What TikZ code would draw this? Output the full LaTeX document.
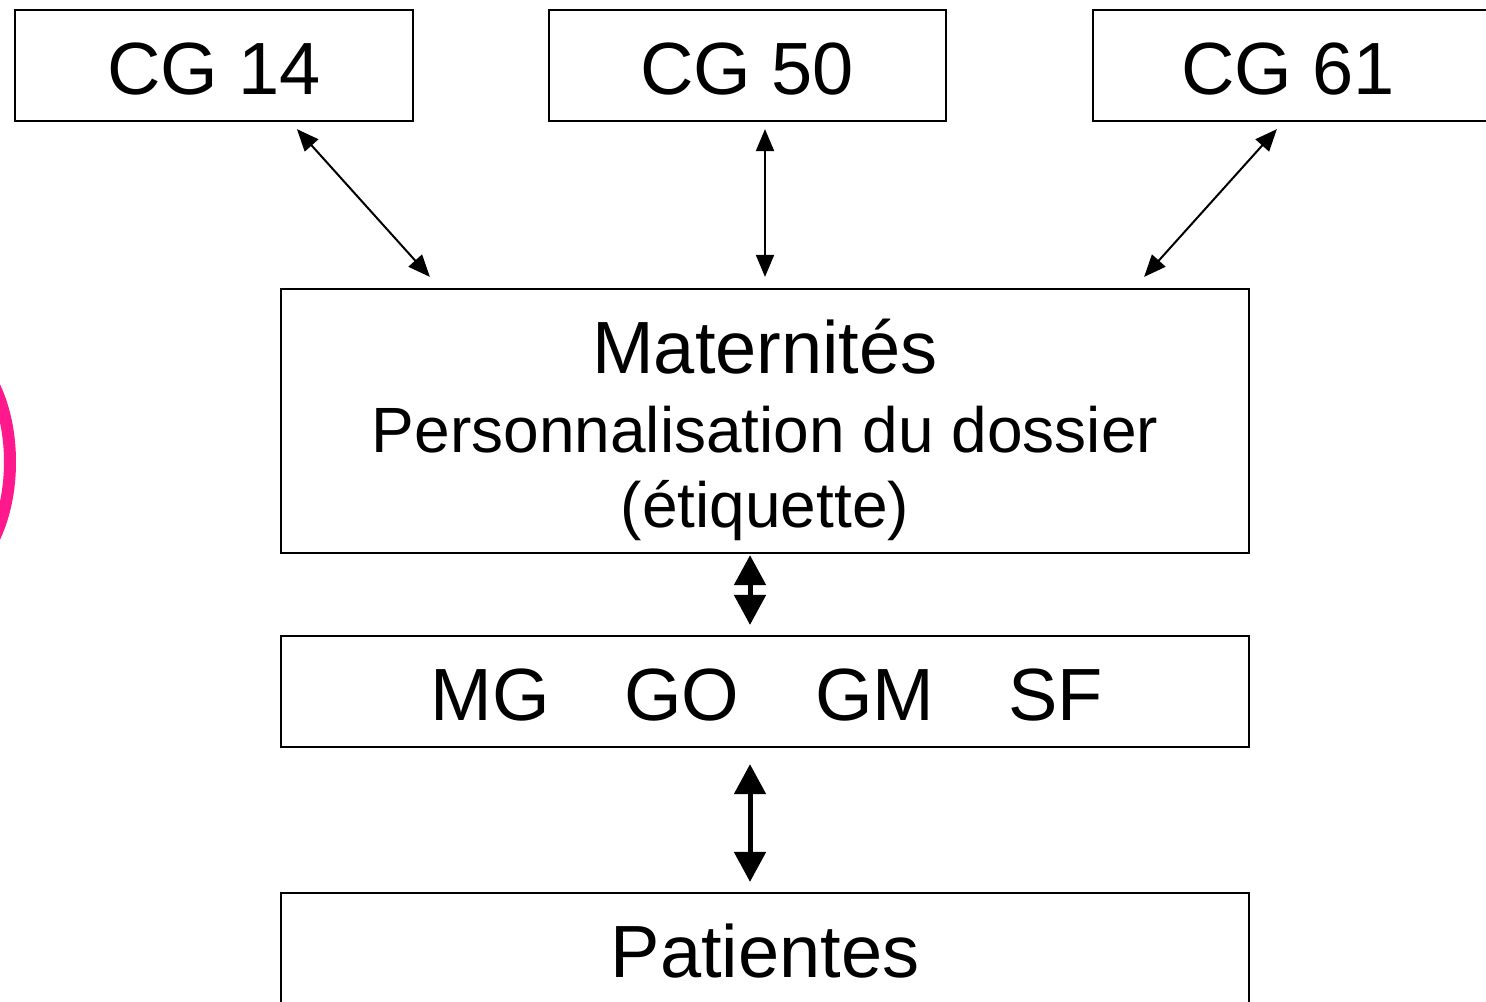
\documentclass[tikz,border=0pt]{standalone}
\usepackage{fontspec}
\setmainfont{Liberation Sans}
\usetikzlibrary{arrows.meta,fit,calc}
\definecolor{pinkarc}{RGB}{255,25,140}
\tikzset{
  boxnode/.style={draw=black, line width=1.1pt, inner sep=0pt, fill=none},
  bigtext/.style={anchor=base, inner sep=0pt, font=\fontsize{37}{44}\selectfont},
  midtext/.style={anchor=base, inner sep=0pt, font=\fontsize{32}{38}\selectfont},
  thinarrow/.style={line width=1pt, {Triangle[length=11pt,width=9pt]}-{Triangle[length=11pt,width=9pt]}},
  thickarrow/.style={line width=2.5pt, {Triangle[length=15pt,width=15.5pt]}-{Triangle[length=15pt,width=15.5pt]}}
}
\begin{document}
\begin{tikzpicture}[x=0.5pt,y=-0.5pt]
\useasboundingbox (0,0) rectangle (1486,1001);
\clip (0,0) rectangle (1486,1001);
% pink arc
\draw[pinkarc, line width=6pt] (-60,462) ellipse [x radius=70, y radius=120];
% boxes
\node[boxnode, fit={(15,10) (413,121)}] (cg14) {};
\node[boxnode, fit={(549,10) (946,121)}] (cg50) {};
\node[boxnode, fit={(1093,10) (1489,121)}] (cg61) {};
\node[boxnode, fit={(281,289) (1249,553)}] (mat) {};
\node[boxnode, fit={(281,636) (1249,747)}] (mg) {};
\node[boxnode, fit={(281,893) (1249,1080)}] (pat) {};
% texts
\node[bigtext] (t14) at (214,94) {CG 14};
\node[bigtext] (t50) at (747,94) {CG 50};
\node[bigtext] (t61) at (1288,94) {CG 61};
\node[bigtext] (tmat1) at (765,373) {Maternités};
\node[midtext] (tmat2) at (765,452) {Personnalisation du dossier};
\node[midtext] (tmat3) at (765,527) {(étiquette)};
\node[bigtext] (tmg) at (767,720) {MG\hspace{37pt}GO\hspace{38pt}GM\hspace{37pt}SF};
\node[bigtext] (tpat) at (765,977) {Patientes};
% connectors
\draw[thinarrow] ($(cg14.south west)+(283,7)$) -- ($(mat.north west)+(150,-11)$);
\draw[thinarrow] ($(cg50.south -| mat.north)+(0,7)$) -- ($(mat.north)+(0,-11)$);
\draw[thinarrow] ($(cg61.south west)+(185,7)$) -- ($(mat.north east)+(-106,-11)$);
\draw[thickarrow] ($(mat.south)+(-15,1)$) -- ($(mg.north)+(-15,-10)$);
\draw[thickarrow] ($(mg.south)+(-15,16)$) -- ($(pat.north)+(-15,-10)$);
\end{tikzpicture}
\end{document}
